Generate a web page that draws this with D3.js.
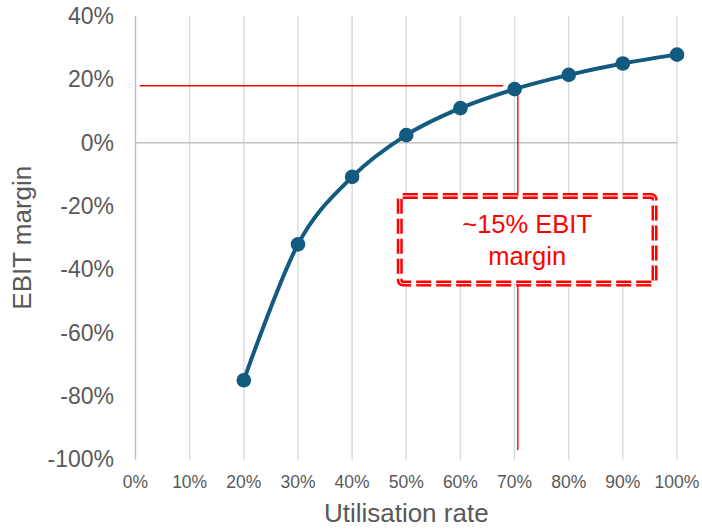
<!DOCTYPE html>
<html>
<head>
<meta charset="utf-8">
<script src="https://cdn.jsdelivr.net/npm/d3@7"></script>
<style>
  html, body { margin: 0; padding: 0; background: #fff; }
  svg { display: block; font-family: "Liberation Sans", Arial, sans-serif; }
</style>
</head>
<body>
<svg id="chart" width="702" height="529"></svg>
<script>
// Utilisation rate (%) and resulting EBIT margin (%)
const utilisation = [20, 30, 40, 50, 60, 70, 80, 90, 100];
const ebitMargin = [-75, -32.1, -10.8, 2.4, 10.9, 16.9, 21.4, 25.0, 27.8];

const xTicks = [0, 10, 20, 30, 40, 50, 60, 70, 80, 90, 100];
const yTicks = [40, 20, 0, -20, -40, -60, -80, -100];

// Reference crosshair: ~18% margin reached at ~70.6% utilisation
const refMargin = 18;
const refUtil = 70.6;
const calloutLines = ["~15% EBIT", "margin"];

const svg = d3.select("#chart");
const x = d3.scaleLinear().domain([0, 100]).range([135.5, 677]);
const y = d3.scaleLinear().domain([-100, 40]).range([459.4, 16]);

const textGrey = "#595959";
const lineBlue = "#125A7F";
const red = "#FF0000";

// vertical gridlines
svg.append("g").selectAll("line").data(xTicks).join("line")
  .attr("x1", d => x(d)).attr("x2", d => x(d))
  .attr("y1", y(40)).attr("y2", y(-100))
  .attr("stroke", d => d === 0 ? "#bfbfbf" : "#d9d9d9")
  .attr("stroke-width", 1.4);

// zero line
svg.append("line")
  .attr("x1", x(0)).attr("x2", x(100))
  .attr("y1", y(0)).attr("y2", y(0))
  .attr("stroke", "#bfbfbf").attr("stroke-width", 1.4);

// y tick labels
svg.append("g").selectAll("text").data(yTicks).join("text")
  .attr("x", 114).attr("y", d => y(d))
  .attr("dy", "0.35em")
  .attr("text-anchor", "end")
  .attr("font-size", 23)
  .attr("fill", textGrey)
  .text(d => d + "%");

// x tick labels
svg.append("g").selectAll("text").data(xTicks).join("text")
  .attr("x", d => x(d)).attr("y", 488)
  .attr("text-anchor", "middle")
  .attr("font-size", 17.5)
  .attr("fill", textGrey)
  .text(d => d + "%");

// axis titles
svg.append("text")
  .attr("x", (x(0) + x(100)) / 2).attr("y", 522)
  .attr("text-anchor", "middle")
  .attr("font-size", 26).attr("fill", textGrey)
  .text("Utilisation rate");

svg.append("text")
  .attr("transform", `translate(31,${(y(40) + y(-100)) / 2}) rotate(-90)`)
  .attr("text-anchor", "middle")
  .attr("font-size", 26).attr("fill", textGrey)
  .text("EBIT margin");

// red reference lines
svg.append("line")
  .attr("x1", x(0.8)).attr("x2", x(67.9))
  .attr("y1", y(refMargin)).attr("y2", y(refMargin))
  .attr("stroke", red).attr("stroke-width", 1.4);
svg.append("line")
  .attr("x1", x(refUtil)).attr("x2", x(refUtil))
  .attr("y1", y(refMargin)).attr("y2", y(-97))
  .attr("stroke", red).attr("stroke-width", 1.4);

// callout box (double dashed border)
const bx0 = x(48.8), bx1 = x(95.85), by0 = y(-16.8), by1 = y(-44.5);
const box = svg.append("g");
box.append("rect")
  .attr("x", bx0).attr("y", by0)
  .attr("width", bx1 - bx0).attr("height", by1 - by0)
  .attr("rx", 3)
  .attr("fill", "#fff")
  .attr("stroke", red).attr("stroke-width", 6)
  .attr("stroke-dasharray", "15 5");
box.append("rect")
  .attr("x", bx0).attr("y", by0)
  .attr("width", bx1 - bx0).attr("height", by1 - by0)
  .attr("rx", 3)
  .attr("fill", "none")
  .attr("stroke", "#fff").attr("stroke-width", 1)
  .attr("stroke-dasharray", "15 5");

box.selectAll("text").data(calloutLines).join("text")
  .attr("x", (bx0 + bx1) / 2)
  .attr("y", (d, i) => 232.5 + i * 32.5)
  .attr("text-anchor", "middle")
  .attr("font-size", 25.5)
  .attr("fill", red)
  .text(d => d);

// smoothed margin curve with markers
const pts = utilisation.map((u, i) => [u, ebitMargin[i]]);
svg.append("path")
  .datum(pts)
  .attr("d", d3.line().x(d => x(d[0])).y(d => y(d[1])).curve(d3.curveCatmullRom.alpha(0)))
  .attr("fill", "none")
  .attr("stroke", lineBlue)
  .attr("stroke-width", 4);

svg.append("g").selectAll("circle").data(pts).join("circle")
  .attr("cx", d => x(d[0])).attr("cy", d => y(d[1]))
  .attr("r", 7.3)
  .attr("fill", lineBlue);
</script>
</body>
</html>
